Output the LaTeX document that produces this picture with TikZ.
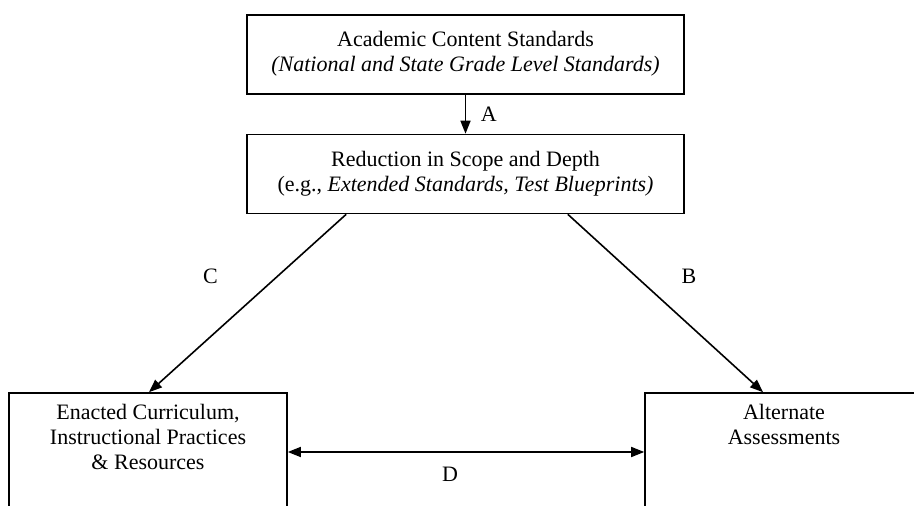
\documentclass[tikz,border=0pt]{standalone}
\usepackage{fontspec}
\setmainfont{Liberation Serif}
\usepackage{tikz}
\usetikzlibrary{positioning,arrows.meta}

\begin{document}
\begin{tikzpicture}[x=0.5pt,y=-0.5pt,>={Triangle[length=6.5pt,width=5pt]},
    every node/.style={font=\fontsize{11}{12.5}\selectfont},
    box/.style={draw,line width=0.8pt,align=center,inner sep=0pt,
      minimum width=218.5pt,minimum height=39.5pt},
    bigbox/.style={draw,line width=0.8pt,inner sep=0pt,
      minimum width=139pt,minimum height=59pt},
    boxtext/.style={align=center,inner sep=0pt}]
    \path[use as bounding box,clip] (0,0) rectangle (914,506);
    \node[box] (acs) at (465.5,54.5) {Academic Content Standards\\
      \textit{(National and State Grade Level Standards)}\\[-9.5pt]};
    \node[box] (red) at (465.5,174) {Reduction in Scope and Depth\\
      (e.g., \textit{Extended Standards, Test Blueprints)}\\[-9.5pt]};
    \node[bigbox] (enact) at (148,452) {};
    \node[bigbox] (alt) at (784,452) {};
    \node[boxtext,below=6pt of enact.north] (enacttxt) {Enacted Curriculum,\\
      Instructional Practices\\ \& Resources};
    \node[boxtext,below=6pt of alt.north] (alttxt) {Alternate\\ Assessments};
    \draw[->,line width=0.8pt] (acs) -- node[right=4pt] {A} (red);
    \draw[->,line width=0.8pt] ([xshift=50pt]red.south west)
      -- node[pos=0.35,left=26pt] {C} ([xshift=0.5pt]enact.north);
    \draw[->,line width=0.8pt] ([xshift=-58.5pt]red.south east)
      -- node[pos=0.35,right=19pt] {B} ([xshift=-10.5pt]alt.north);
    \draw[<->,line width=0.8pt] (enact) -- node[below=3.7pt,xshift=-8pt] {D} (alt);
  \end{tikzpicture}
\end{document}
